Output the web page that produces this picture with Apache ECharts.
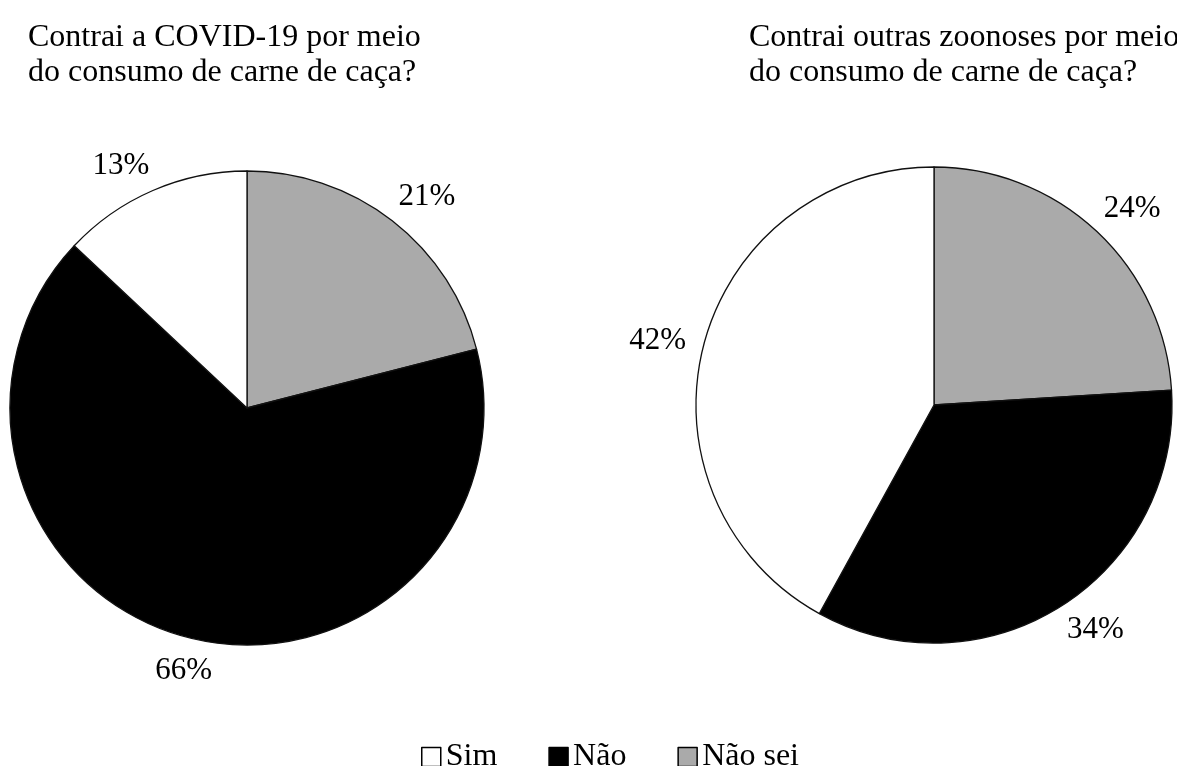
<!DOCTYPE html>
<html>
<head>
<meta charset="utf-8">
<script src="https://cdn.jsdelivr.net/npm/echarts@6/dist/echarts.min.js"></script>
<style>
html,body{margin:0;padding:0;background:#fff;}
#c{width:1177px;height:766px;}
</style>
</head>
<body>
<div id="c"></div>
<script>
const categories = ['Não sei', 'Não', 'Sim'];
const legendOrder = ['Sim', 'Não', 'Não sei'];
const covidValues = [21, 66, 13];
const zoonosesValues = [24, 34, 42];
const titles = ['Contrai a COVID-19 por meio\ndo consumo de carne de caça?', 'Contrai outras zoonoses por meio\ndo consumo de carne de caça?'];
const colors = {'Não sei': '#aaaaaa', 'Não': '#000000', 'Sim': '#ffffff'};

const FONT = '"Liberation Serif", "Times New Roman", serif';
const pies = [
  {values: covidValues, center: [247, 408], radius: 237},
  {values: zoonosesValues, center: [934, 405], radius: 238}
];
const LABEL_GAP = 10;
const LABEL_GAP_CARDINAL = 8;

function makeData(vals) {
  return categories.map((c, i) => ({name: c, value: vals[i], itemStyle: {color: colors[c]}}));
}

function midAngle(vals, idx) {
  const total = vals.reduce((a, b) => a + b, 0);
  let before = 0;
  for (let i = 0; i < idx; i++) before += vals[i];
  return (before + vals[idx] / 2) / total * Math.PI * 2; // clockwise from top
}

// "outside end" placement: the label corner nearest the pie sits just outside the rim;
// near the cardinal directions the label is centred on the radial line instead.
function side(t) {
  const m = Math.min(1, Math.max(0, (Math.abs(t) - 0.25) / 0.15));
  return Math.sign(t) * m;
}

function labelLayout(params) {
  const p = pies[params.seriesIndex];
  const a = midAngle(p.values, params.dataIndex);
  const ux = Math.sin(a), uy = -Math.cos(a);
  const sx = side(ux), sy = side(uy);
  const w = params.labelRect.width, h = params.labelRect.height;
  const d = p.radius + LABEL_GAP + LABEL_GAP_CARDINAL * (1 - Math.abs(sx * sy));
  return {
    x: p.center[0] + ux * d + sx * w / 2,
    y: p.center[1] + uy * d + sy * h / 2,
    align: 'center',
    verticalAlign: 'middle'
  };
}

function pieSeries(p) {
  return {
    type: 'pie',
    center: p.center,
    radius: p.radius,
    startAngle: 90,
    clockwise: true,
    avoidLabelOverlap: false,
    animation: false,
    silent: true,
    data: makeData(p.values),
    itemStyle: {borderColor: '#111', borderWidth: 1.3},
    label: {
      show: true,
      position: 'outside',
      formatter: '{c}%',
      fontFamily: FONT,
      fontSize: 31,
      color: '#000'
    },
    labelLine: {show: false, length: 10, length2: 0},
    labelLayout: labelLayout,
    emphasis: {disabled: true}
  };
}

const titleStyle = {fontFamily: FONT, fontSize: 32, fontWeight: 'normal', color: '#000', lineHeight: 35};

const chart = echarts.init(document.getElementById('c'));
chart.setOption({
  backgroundColor: '#fff',
  title: [
    {text: titles[0], left: 23, top: 15, textStyle: titleStyle},
    {text: titles[1], left: 744, top: 15, textStyle: titleStyle}
  ],
  legend: {
    data: legendOrder,
    top: 736,
    left: 416,
    icon: 'rect',
    itemWidth: 19,
    itemHeight: 19,
    itemGap: 51,
    selectedMode: false,
    textStyle: {fontFamily: FONT, fontSize: 32, color: '#000', padding: [0, 0, 0, 0]},
    itemStyle: {borderColor: '#000', borderWidth: 1.5}
  },
  series: pies.map(pieSeries)
});
</script>
</body>
</html>
